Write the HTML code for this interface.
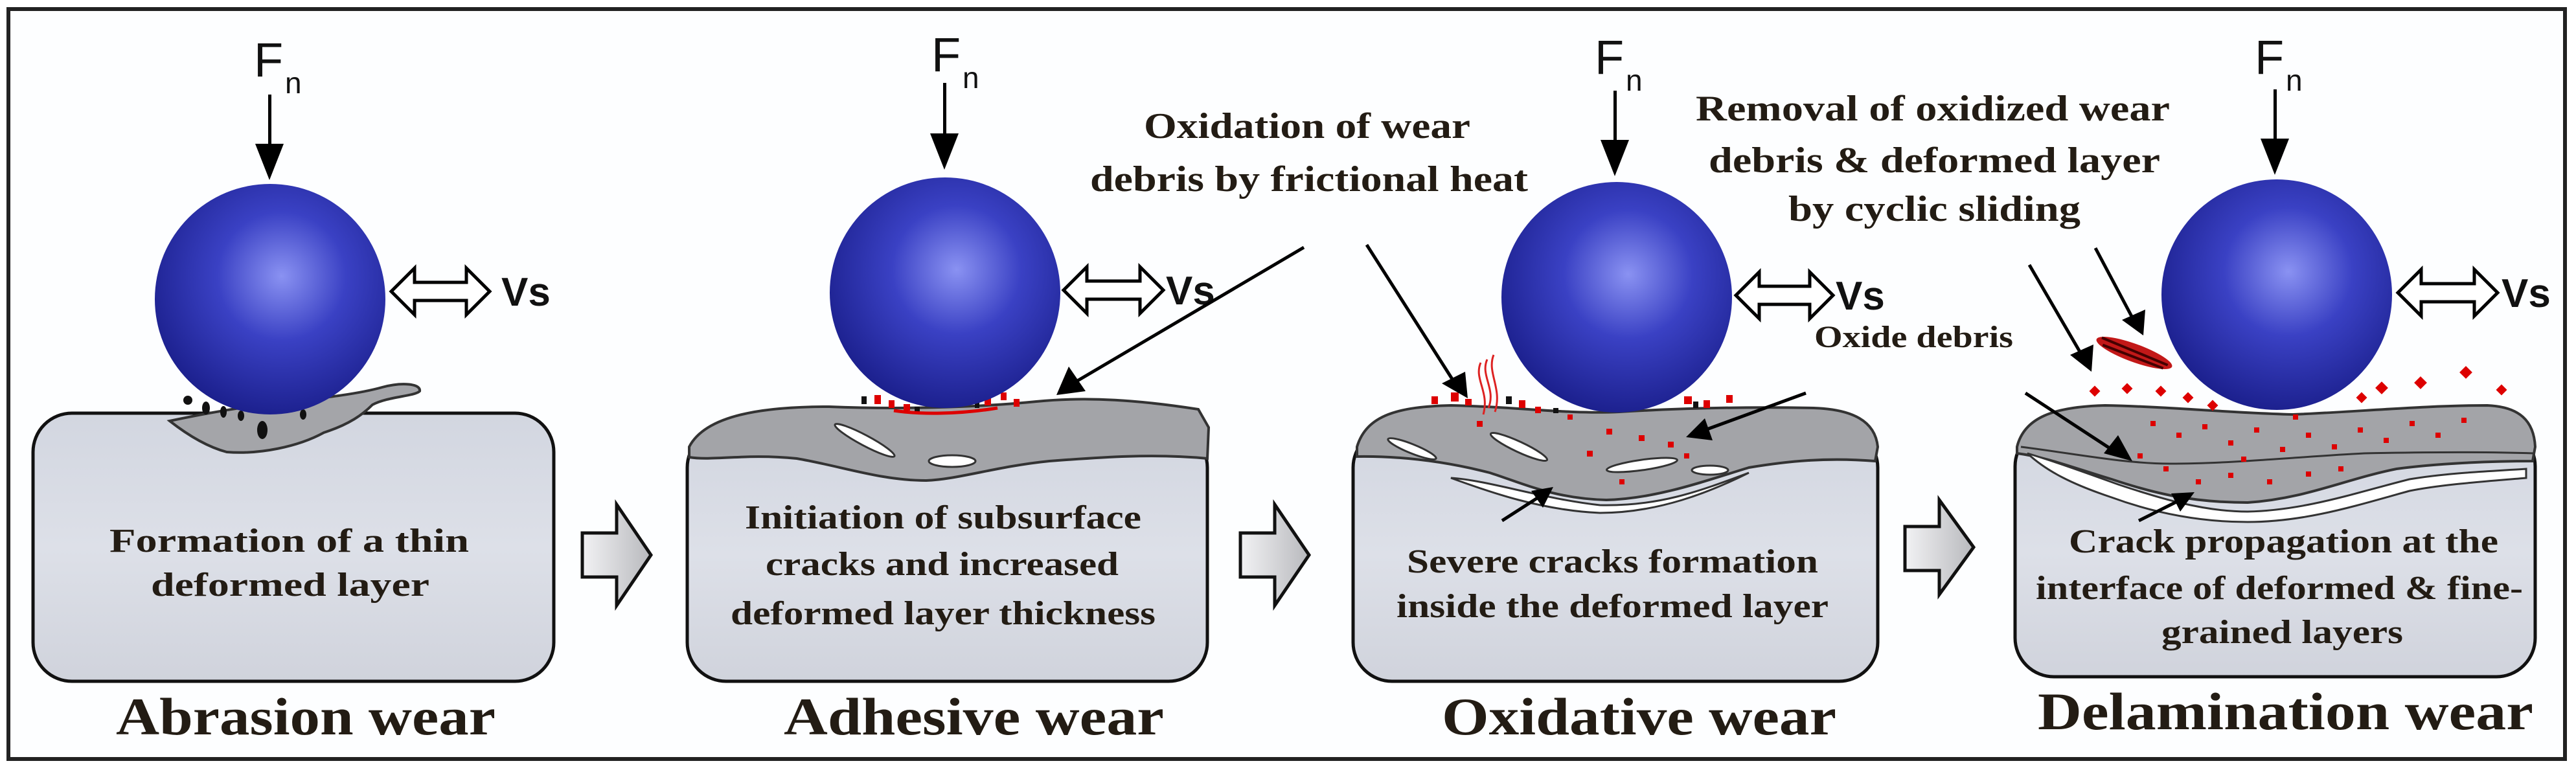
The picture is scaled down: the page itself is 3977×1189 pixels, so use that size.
<!DOCTYPE html>
<html><head><meta charset="utf-8"><style>
html,body{margin:0;padding:0;background:#fff;}
svg{display:block;}
.t{font-family:"Liberation Serif",serif;font-weight:bold;fill:#231c14;}
.s{font-family:"Liberation Sans",sans-serif;fill:#111;}
</style></head><body>
<svg width="3977" height="1189" viewBox="0 0 3977 1189" xmlns="http://www.w3.org/2000/svg">
<defs>
<radialGradient id="ball" cx="0.55" cy="0.4" r="0.62">
<stop offset="0" stop-color="#8a92f2"/>
<stop offset="0.45" stop-color="#3a41c4"/>
<stop offset="1" stop-color="#1b1f8c"/>
</radialGradient>
<linearGradient id="sub" x1="0" y1="0" x2="0" y2="1">
<stop offset="0" stop-color="#d2d6e0"/>
<stop offset="0.5" stop-color="#dde0e8"/>
<stop offset="1" stop-color="#d0d3dc"/>
</linearGradient>
<linearGradient id="barr" x1="0" y1="0" x2="1" y2="0">
<stop offset="0" stop-color="#f2f2f4"/>
<stop offset="1" stop-color="#b8b9bd"/>
</linearGradient>
</defs>
<rect x="0" y="0" width="3977" height="1189" fill="#fff"/>
<rect x="13" y="14" width="3947" height="1158" fill="#fdfeff" stroke="#222" stroke-width="6"/>

<!-- substrates -->
<rect x="51" y="638" width="804" height="414" rx="60" fill="url(#sub)" stroke="#111" stroke-width="5"/>
<rect x="1061" y="662" width="803" height="390" rx="60" fill="url(#sub)" stroke="#111" stroke-width="5"/>
<rect x="2089" y="662" width="810" height="390" rx="60" fill="url(#sub)" stroke="#111" stroke-width="5"/>
<rect x="3111" y="660" width="803" height="385" rx="60" fill="url(#sub)" stroke="#111" stroke-width="5"/>

<!-- panel 1 smear -->
<path d="M262,650 C300,642 350,632 400,626 C460,618 540,612 590,598 C620,590 650,592 648,604 C640,612 600,612 575,625 C560,640 540,655 500,668 C460,690 400,702 350,698 C320,690 290,672 262,650Z" fill="#a4a5a9" stroke="#333" stroke-width="4"/>
<g fill="#111"><circle cx="290" cy="618" r="7"/><ellipse cx="318" cy="630" rx="6" ry="10"/><ellipse cx="345" cy="636" rx="5" ry="9"/><ellipse cx="405" cy="664" rx="8" ry="14"/><ellipse cx="372" cy="642" rx="5" ry="8"/><ellipse cx="468" cy="640" rx="5" ry="8"/></g>

<!-- panel 2 layer -->
<path d="M1064,690 C1090,640 1180,628 1280,628 C1380,632 1500,630 1600,620 C1680,612 1760,618 1850,632 L1866,660 L1864,708 C1780,700 1700,706 1620,712 C1540,720 1480,740 1430,742 C1360,742 1300,720 1230,708 C1150,700 1100,712 1064,706 Z" fill="#a3a4a8" stroke="#333" stroke-width="4"/>
<ellipse cx="1335" cy="680" rx="52" ry="8" transform="rotate(28 1335 680)" fill="#fff" stroke="#333" stroke-width="3"/>
<ellipse cx="1470" cy="712" rx="36" ry="9" fill="#fff" stroke="#333" stroke-width="3"/>
<g fill="#d00"><rect x="1350" y="610" width="10" height="14"/><rect x="1372" y="618" width="9" height="12"/><rect x="1395" y="624" width="10" height="10"/><rect x="1520" y="612" width="10" height="14"/><rect x="1545" y="606" width="9" height="12"/><rect x="1565" y="616" width="9" height="12"/></g>
<g fill="#111"><rect x="1330" y="612" width="8" height="12"/><rect x="1412" y="628" width="8" height="8"/><rect x="1505" y="620" width="7" height="10"/></g>
<path d="M1380,634 C1420,640 1480,640 1540,630" stroke="#d00" stroke-width="5" fill="none"/>

<!-- panel 3 layer -->
<path d="M2095,690 C2110,640 2160,628 2240,626 C2340,628 2420,640 2500,636 C2600,630 2700,628 2800,630 C2860,632 2895,650 2899,690 L2895,712 C2820,706 2760,712 2700,722 C2640,740 2560,770 2480,772 C2400,770 2350,746 2300,730 C2230,712 2160,704 2095,705Z" fill="#a3a4a8" stroke="#333" stroke-width="4"/>
<path d="M2240,738 C2300,742 2380,770 2470,780 C2560,782 2620,760 2700,730 C2640,760 2560,792 2470,792 C2380,788 2300,760 2240,738Z" fill="#fff" stroke="#333" stroke-width="3"/>
<ellipse cx="2180" cy="693" rx="40" ry="7" transform="rotate(22 2180 693)" fill="#fff" stroke="#333" stroke-width="3"/>
<ellipse cx="2345" cy="690" rx="48" ry="8" transform="rotate(25 2345 690)" fill="#fff" stroke="#333" stroke-width="3"/>
<ellipse cx="2535" cy="718" rx="55" ry="8" transform="rotate(-8 2535 718)" fill="#fff" stroke="#333" stroke-width="3"/>
<ellipse cx="2640" cy="726" rx="28" ry="7" fill="#fff" stroke="#333" stroke-width="3"/>
<path d="M2296,555 C2285,580 2310,600 2298,630 M2306,548 C2295,575 2320,600 2308,636 M2286,560 C2275,585 2300,605 2290,640" stroke="#d22" stroke-width="3" fill="none"/>
<g fill="#d00"><rect x="2210" y="612" width="10" height="12"/><rect x="2240" y="606" width="12" height="14"/><rect x="2262" y="616" width="10" height="10"/><rect x="2345" y="618" width="10" height="12"/><rect x="2370" y="628" width="9" height="10"/><rect x="2600" y="612" width="12" height="12"/><rect x="2630" y="618" width="10" height="12"/><rect x="2665" y="610" width="10" height="12"/><rect x="2480" y="662" width="9" height="9"/><rect x="2530" y="672" width="9" height="9"/><rect x="2575" y="682" width="9" height="9"/><rect x="2450" y="696" width="9" height="9"/><rect x="2500" y="740" width="8" height="8"/><rect x="2280" y="650" width="9" height="9"/><rect x="2600" y="700" width="8" height="8"/><rect x="2420" y="640" width="8" height="8"/></g>
<g fill="#111"><rect x="2325" y="612" width="9" height="12"/><rect x="2398" y="630" width="8" height="8"/><rect x="2614" y="620" width="8" height="10"/></g>

<!-- panel 4 layer -->
<path d="M3114,690 C3125,645 3170,628 3250,626 C3350,628 3450,638 3540,640 C3640,636 3740,626 3840,626 C3890,628 3912,650 3914,690 L3910,712 C3840,712 3760,716 3700,724 C3620,740 3560,770 3470,776 C3380,776 3320,760 3260,740 C3200,722 3160,706 3114,700Z" fill="#a3a4a8" stroke="#333" stroke-width="4"/>
<path d="M3130,700 C3170,712 3220,730 3270,748 C3330,768 3400,790 3470,790 C3560,788 3640,760 3720,740 C3780,730 3840,728 3900,724 L3900,738 C3830,744 3770,748 3720,758 C3640,780 3560,806 3470,806 C3390,806 3320,790 3260,768 C3200,748 3160,728 3130,700Z" fill="#fff" stroke="#333" stroke-width="3"/>
<path d="M3120,690 C3200,700 3280,716 3350,716 C3450,716 3550,705 3650,700 C3750,698 3850,698 3912,700" stroke="#333" stroke-width="3" fill="none"/>
<g fill="#d00"><rect x="3228" y="598" width="12" height="12" transform="rotate(45 3234 604)"/><rect x="3278" y="594" width="12" height="12" transform="rotate(45 3284 600)"/><rect x="3330" y="598" width="12" height="12" transform="rotate(45 3336 604)"/><rect x="3372" y="608" width="12" height="12" transform="rotate(45 3378 614)"/><rect x="3410" y="620" width="12" height="12" transform="rotate(45 3416 626)"/><rect x="3640" y="608" width="12" height="12" transform="rotate(45 3646 614)"/><rect x="3670" y="592" width="14" height="14" transform="rotate(45 3677 599)"/><rect x="3730" y="584" width="14" height="14" transform="rotate(45 3737 591)"/><rect x="3800" y="568" width="14" height="14" transform="rotate(45 3807 575)"/><rect x="3856" y="596" width="12" height="12" transform="rotate(45 3862 602)"/>
<rect x="3320" y="650" width="8" height="8"/><rect x="3360" y="668" width="8" height="8"/><rect x="3400" y="655" width="8" height="8"/><rect x="3440" y="680" width="8" height="8"/><rect x="3480" y="660" width="8" height="8"/><rect x="3520" y="690" width="8" height="8"/><rect x="3560" y="668" width="8" height="8"/><rect x="3600" y="686" width="8" height="8"/><rect x="3640" y="660" width="8" height="8"/><rect x="3680" y="676" width="8" height="8"/><rect x="3720" y="650" width="8" height="8"/><rect x="3760" y="668" width="8" height="8"/><rect x="3800" y="645" width="8" height="8"/><rect x="3340" y="720" width="8" height="8"/><rect x="3390" y="740" width="8" height="8"/><rect x="3440" y="730" width="8" height="8"/><rect x="3500" y="740" width="8" height="8"/><rect x="3560" y="728" width="8" height="8"/><rect x="3610" y="720" width="8" height="8"/><rect x="3460" y="705" width="8" height="8"/><rect x="3300" y="700" width="8" height="8"/><rect x="3540" y="640" width="8" height="8"/></g>
<g transform="rotate(20 3295 545)"><ellipse cx="3295" cy="545" rx="62" ry="14" fill="#c21818"/><path d="M3240,540 L3350,545 M3245,550 L3345,552" stroke="#400" stroke-width="4"/></g>

<!-- balls -->
<circle cx="417" cy="462" r="178" fill="url(#ball)"/>
<circle cx="1459" cy="452" r="178" fill="url(#ball)"/>
<circle cx="2496" cy="459" r="178" fill="url(#ball)"/>
<circle cx="3515" cy="455" r="178" fill="url(#ball)"/>

<!-- Fn -->
<g class="s">
<text x="392" y="118" font-size="74">F</text><text x="440" y="144" font-size="46">n</text>
<text x="1438" y="110" font-size="74">F</text><text x="1486" y="136" font-size="46">n</text>
<text x="2462" y="114" font-size="74">F</text><text x="2510" y="140" font-size="46">n</text>
<text x="3481" y="114" font-size="74">F</text><text x="3529" y="140" font-size="46">n</text>
</g>
<g fill="#000">
<rect x="414" y="146" width="5" height="80"/><path d="M394,222 L438,222 L416,278Z"/>
<rect x="1456" y="128" width="5" height="80"/><path d="M1436,206 L1480,206 L1458,262Z"/>
<rect x="2491" y="140" width="5" height="80"/><path d="M2471,216 L2515,216 L2493,272Z"/>
<rect x="3510" y="138" width="5" height="80"/><path d="M3490,214 L3534,214 L3512,270Z"/>
</g>

<!-- Vs arrows -->
<g fill="#fff" stroke="#000" stroke-width="5">
<path d="M604,450 L640,414 L640,436 L720,436 L720,414 L756,450 L720,486 L720,464 L640,464 L640,486Z"/>
<path d="M1642,448 L1678,412 L1678,434 L1760,434 L1760,412 L1796,448 L1760,484 L1760,462 L1678,462 L1678,484Z"/>
<path d="M2680,456 L2716,420 L2716,442 L2794,442 L2794,420 L2830,456 L2794,492 L2794,470 L2716,470 L2716,492Z"/>
<path d="M3702,452 L3738,416 L3738,438 L3820,438 L3820,416 L3856,452 L3820,488 L3820,466 L3738,466 L3738,488Z"/>
</g>
<g class="s" font-size="62" font-weight="bold">
<text x="774" y="472">Vs</text><text x="1800" y="470">Vs</text><text x="2834" y="478">Vs</text><text x="3862" y="474">Vs</text>
</g>

<!-- block arrows -->
<g fill="url(#barr)" stroke="#111" stroke-width="5">
<path d="M899,823 L952,823 L952,779 L1005,857 L952,935 L952,891 L899,891Z"/>
<path d="M1915,823 L1968,823 L1968,779 L2021,857 L1968,935 L1968,891 L1915,891Z"/>
<path d="M2941,813 L2994,813 L2994,772 L3047,845 L2994,918 L2994,881 L2941,881Z"/>
</g>

<!-- leader arrows -->
<g stroke="#000" stroke-width="5" fill="none">
<line x1="2013" y1="382" x2="1660" y2="590"/>
<line x1="2110" y1="378" x2="2245" y2="590"/>
<line x1="2788" y1="607" x2="2635" y2="663"/>
<line x1="2319" y1="804" x2="2375" y2="768"/>
<line x1="3133" y1="409" x2="3215" y2="550"/>
<line x1="3235" y1="383" x2="3295" y2="496"/>
<line x1="3127" y1="607" x2="3260" y2="694"/>
<line x1="3302" y1="804" x2="3360" y2="775"/>
</g>
<g fill="#000">
<path d="M1631,610 L1650,566 L1676,604Z"/>
<path d="M2266,615 L2226,592 L2262,574Z"/>
<path d="M2603,675 L2632,646 L2644,680Z"/>
<path d="M2398,752 L2364,758 L2382,784Z"/>
<path d="M3229,574 L3196,548 L3232,532Z"/>
<path d="M3309,518 L3276,494 L3312,478Z"/>
<path d="M3292,712 L3248,700 L3270,672Z"/>
<path d="M3388,760 L3352,762 L3366,790Z"/>
</g>

<!-- labels -->
<g class="t" font-size="56">
<text x="1766" y="213" textLength="504" lengthAdjust="spacingAndGlyphs">Oxidation of wear</text>
<text x="1683" y="295" textLength="676" lengthAdjust="spacingAndGlyphs">debris by frictional heat</text>
<text x="2618" y="186" textLength="732" lengthAdjust="spacingAndGlyphs">Removal of oxidized wear</text>
<text x="2638" y="266" textLength="697" lengthAdjust="spacingAndGlyphs">debris &amp; deformed layer</text>
<text x="2761" y="341" textLength="451" lengthAdjust="spacingAndGlyphs">by cyclic sliding</text>
<text x="2801" y="536" font-size="48" textLength="307" lengthAdjust="spacingAndGlyphs">Oxide debris</text>
</g>

<!-- box texts -->
<g class="t" font-size="52">
<text x="169" y="852" textLength="555" lengthAdjust="spacingAndGlyphs">Formation of a thin</text>
<text x="233" y="920" textLength="430" lengthAdjust="spacingAndGlyphs">deformed layer</text>
<text x="1150" y="816" textLength="612" lengthAdjust="spacingAndGlyphs">Initiation of subsurface</text>
<text x="1182" y="888" textLength="545" lengthAdjust="spacingAndGlyphs">cracks and increased</text>
<text x="1128" y="964" textLength="656" lengthAdjust="spacingAndGlyphs">deformed layer thickness</text>
<text x="2172" y="884" textLength="635" lengthAdjust="spacingAndGlyphs">Severe cracks formation</text>
<text x="2156" y="953" textLength="667" lengthAdjust="spacingAndGlyphs">inside the deformed layer</text>
<text x="3194" y="853" textLength="663" lengthAdjust="spacingAndGlyphs">Crack propagation at the</text>
<text x="3143" y="925" textLength="752" lengthAdjust="spacingAndGlyphs">interface of deformed &amp; fine-</text>
<text x="3337" y="993" textLength="373" lengthAdjust="spacingAndGlyphs">grained layers</text>
</g>

<!-- titles -->
<g class="t" font-size="82">
<text x="179" y="1134" textLength="586" lengthAdjust="spacingAndGlyphs">Abrasion wear</text>
<text x="1210" y="1134" textLength="587" lengthAdjust="spacingAndGlyphs">Adhesive wear</text>
<text x="2226" y="1134" textLength="609" lengthAdjust="spacingAndGlyphs">Oxidative wear</text>
<text x="3146" y="1126" textLength="765" lengthAdjust="spacingAndGlyphs">Delamination wear</text>
</g>
</svg>
</body></html>
